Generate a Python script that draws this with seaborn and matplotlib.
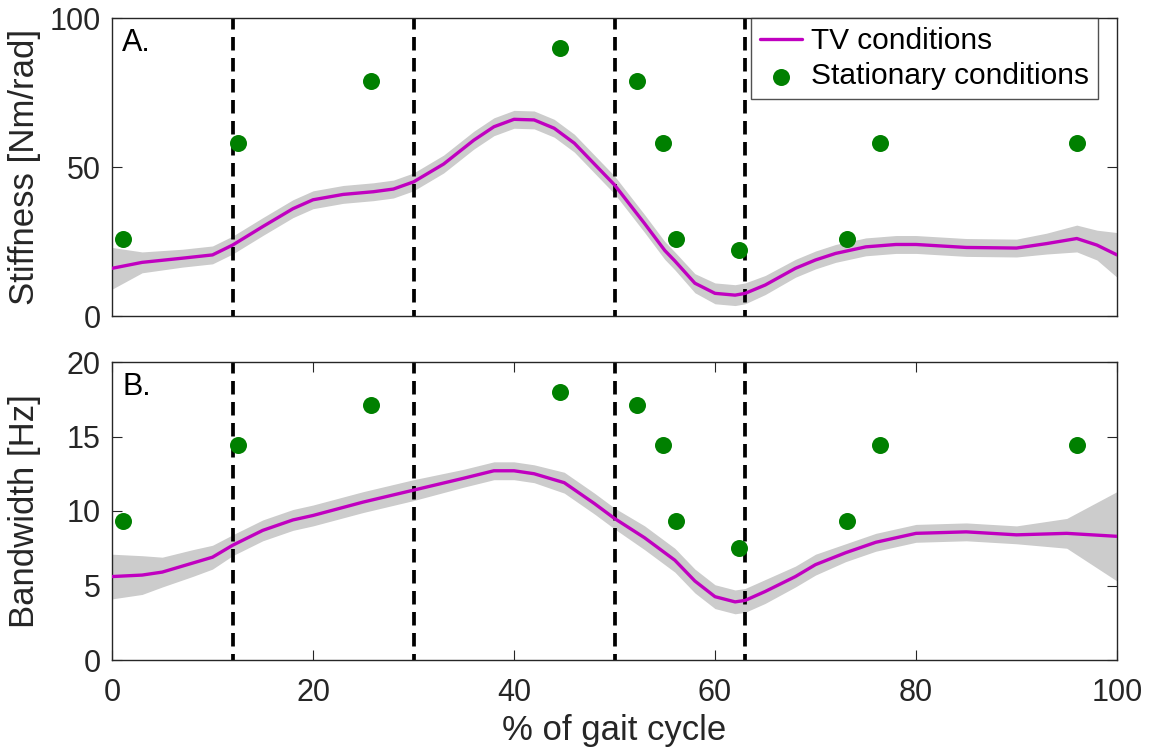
import matplotlib
matplotlib.use("Agg")
import matplotlib.pyplot as plt
import seaborn as sns
import numpy as np
import pandas as pd

# ---------------- data ----------------
stiff_x = [0, 3, 7, 10, 12, 15, 18, 20, 23, 26, 28, 30, 33, 36, 38, 40, 42, 44, 46, 48,
           50, 53, 55, 56, 58, 60, 62, 63, 65, 68, 70, 72, 75, 78, 80, 85, 90, 93, 96, 98, 100]
stiff_y = [16, 18, 19.4, 20.5, 23.8, 30, 36, 39, 40.8, 41.7, 42.6, 45, 51, 59, 63.5, 66, 65.8, 63, 58, 51,
           44, 31, 22, 18.5, 11, 7.6, 7, 7.6, 10.4, 16, 18.8, 21, 23.2, 24, 24, 23, 22.8, 24.3, 26, 23.8, 20.5]
stiff_sd = [7, 3.5, 3, 3, 3, 3, 3, 3, 3, 3, 3, 3, 3, 3, 3, 3, 3, 3, 3, 3,
            3, 3, 3, 3, 3.2, 3.5, 3.5, 3.5, 3.2, 3, 3, 3, 3, 3, 3, 3, 3, 3.5, 4.5, 5, 7.5]

bw_x = [0, 3, 5, 8, 10, 12, 15, 18, 20, 25, 30, 35, 38, 40, 42, 45, 48, 50, 53, 56, 58, 60,
        62, 63, 65, 68, 70, 73, 76, 80, 85, 90, 95, 100]
bw_y = [5.6, 5.7, 5.9, 6.5, 6.9, 7.7, 8.7, 9.4, 9.7, 10.6, 11.4, 12.2, 12.7, 12.7, 12.5, 11.9, 10.5, 9.5,
        8.2, 6.7, 5.3, 4.25, 3.9, 4.0, 4.6, 5.6, 6.4, 7.2, 7.9, 8.5, 8.6, 8.4, 8.5, 8.3]
bw_sd = [1.5, 1.3, 1.0, 0.9, 0.8, 0.7, 0.7, 0.7, 0.7, 0.7, 0.7, 0.6, 0.6, 0.6, 0.6, 0.7, 0.7, 0.7,
         0.8, 0.8, 0.8, 0.8, 0.8, 0.8, 0.8, 0.7, 0.7, 0.6, 0.6, 0.6, 0.6, 0.6, 1.0, 3.0]

stat_x = [1.1, 12.5, 25.8, 44.6, 52.2, 54.8, 56.1, 62.4, 73.1, 76.4, 96.0]
stat_stiff = [26, 58, 79, 90, 79, 58, 26, 22, 26, 58, 58]
stat_bw = [9.3, 14.4, 17.1, 18.0, 17.1, 14.4, 9.3, 7.5, 9.3, 14.4, 14.4]

phase_lines = [12, 30, 50, 63]
x_ticks = [0, 20, 40, 60, 80, 100]
stiff_ticks = [0, 50, 100]
bw_ticks = [0, 5, 10, 15, 20]

# ---------------- style ----------------
sns.set_theme(style="white")
plt.rcParams['font.family'] = ['Liberation Sans', 'DejaVu Sans']
TXT = "#262626"
MAG = "#c000c0"
GRN = "#008000"
BAND = "#cccccc"

fig = plt.figure(figsize=(11.53, 7.51), dpi=100)
ax1 = fig.add_axes([112/1153, 1-316/751, (1117-112)/1153, (316-18)/751])
ax2 = fig.add_axes([112/1153, 1-660/751, (1117-112)/1153, (660-362)/751])

df_s = pd.DataFrame({"x": stiff_x, "y": stiff_y, "sd": stiff_sd})
df_b = pd.DataFrame({"x": bw_x, "y": bw_y, "sd": bw_sd})
df_stat = pd.DataFrame({"x": stat_x, "stiff": stat_stiff, "bw": stat_bw})

for ax, df, ycol, ylab, yticks, ylim, panel in [
        (ax1, df_s, "stiff", "Stiffness [Nm/rad]", stiff_ticks, (0, 100), "A."),
        (ax2, df_b, "bw", "Bandwidth [Hz]", bw_ticks, (0, 20), "B.")]:
    ax.fill_between(df["x"], df["y"] - df["sd"], df["y"] + df["sd"], color=BAND, lw=0, zorder=1)
    sns.lineplot(data=df, x="x", y="y", ax=ax, color=MAG, lw=2.4, zorder=3,
                 label="TV conditions" if ax is ax1 else None)
    for xv in phase_lines:
        ax.axvline(xv, color="black", lw=2.7, ls=(2, (3.6, 2.0)), zorder=2)
    sns.scatterplot(data=df_stat, x="x", y=ycol, ax=ax, color=GRN, s=150, edgecolor=GRN,
                    linewidth=0, zorder=4, label="Stationary conditions" if ax is ax1 else None)
    ax.set_xlim(0, 100)
    ax.set_ylim(*ylim)
    ax.set_yticks(yticks)
    ax.set_ylabel(ylab, fontsize=25, color=TXT)
    ax.yaxis.set_label_coords(-0.071, 0.5)
    ax.set_xlabel("")
    ax.text(0.010, 0.965, panel, transform=ax.transAxes, fontsize=22, color="black",
            va="top", ha="left")
    for sp in ax.spines.values():
        sp.set_color(TXT)
        sp.set_linewidth(1.0)
        sp.set_visible(True)
    ax.tick_params(axis="both", direction="in", length=7, width=0.8, colors=TXT,
                   labelsize=22, left=True, right=True)
    ax.tick_params(axis="y", pad=8)

ax1.set_xticks(x_ticks)
ax1.tick_params(axis="x", bottom=False, top=False, labelbottom=False)
ax2.set_xticks(x_ticks)
ax2.tick_params(axis="x", bottom=True, top=True, labelbottom=True, pad=13)
ax2.set_xlabel("% of gait cycle", fontsize=25, color=TXT, labelpad=4)

leg = ax1.legend(loc="upper right", bbox_to_anchor=(0.981, 1.0), borderaxespad=0,
                 fontsize=21.5, frameon=True, fancybox=False, edgecolor=TXT,
                 handlelength=1.4, handletextpad=0.3, borderpad=0.3, labelspacing=0.25)
leg.get_frame().set_linewidth(1.0)
for t in leg.get_texts():
    t.set_color("black")

fig.savefig("out.png", dpi=100)
